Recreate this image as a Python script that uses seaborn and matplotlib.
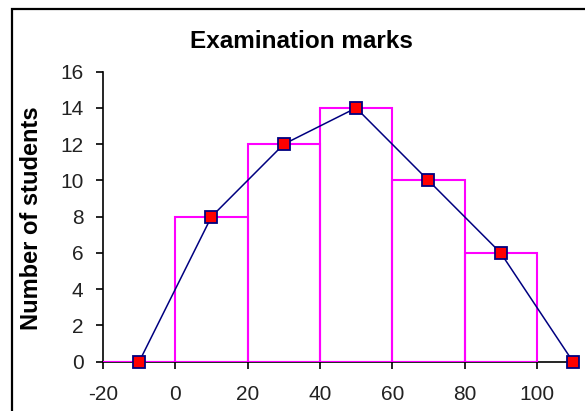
import matplotlib
matplotlib.use("Agg")
import matplotlib.pyplot as plt
import matplotlib.patches as mpatches
import seaborn as sns
import pandas as pd

# ---- data ----
bin_edges = [-20, 0, 20, 40, 60, 80, 100]
bin_mids = [-10, 10, 30, 50, 70, 90]
frequencies = [0, 8, 12, 14, 10, 6]
polygon_x = [-10, 10, 30, 50, 70, 90, 110]
polygon_y = [0, 8, 12, 14, 10, 6, 0]
x_ticks = [-20, 0, 20, 40, 60, 80, 100]
y_ticks = [0, 2, 4, 6, 8, 10, 12, 14, 16]
title = "Examination marks"
y_label = "Number of students"

sns.set_style("ticks")
plt.rcParams["font.family"] = ["Liberation Sans", "DejaVu Sans"]
plt.rcParams["axes.unicode_minus"] = False

W, H = 585, 411
fig = plt.figure(figsize=(W / 100, H / 100), dpi=100)
ax = fig.add_axes([103 / W, 1 - 361.7 / H, (573 - 103) / W, (361.7 - 71.7) / H])

hist_df = pd.DataFrame({"mark": bin_mids, "count": frequencies})
sns.histplot(data=hist_df, x="mark", weights="count", bins=bin_edges,
             fill=False, color="#FF00FF", linewidth=1.5, ax=ax)
for p in ax.patches:
    p.set_zorder(3)
    p.set_edgecolor("#FF00FF")
# baseline of the bars (zero-height first bin)
ax.hlines(0, bin_edges[0], bin_edges[-1], colors="#FF00FF", linewidth=1.5, zorder=3)

poly_df = pd.DataFrame({"x": polygon_x, "y": polygon_y})
sns.lineplot(data=poly_df, x="x", y="y", ax=ax, color="#000080", linewidth=1.1,
             marker="s", markersize=8, markerfacecolor="red",
             markeredgecolor="#000080", markeredgewidth=1.3, clip_on=False,
             zorder=4)

ax.set_xlim(-20, 110)
ax.set_ylim(0, 16)
ax.set_xticks(x_ticks)
ax.set_yticks(y_ticks)
ax.set_xlabel("")
ax.set_ylabel("")
for s in ["top", "right"]:
    ax.spines[s].set_visible(False)
for s in ["left", "bottom"]:
    ax.spines[s].set_color("black")
    ax.spines[s].set_linewidth(1.2)
ax.tick_params(axis="both", direction="out", length=5, width=1.2, colors="black",
               labelsize=15, labelcolor="#222222")
ax.tick_params(axis="x", pad=12)
ax.tick_params(axis="y", pad=9)

fig.text(301 / W, 1 - 48 / H, title, ha="center", va="baseline",
         fontsize=17.5, fontweight="bold", color="black")
fig.text(32 / W, 1 - 218 / H, y_label, ha="center", va="center", rotation=90,
         fontsize=17, fontweight="bold", color="black")

border = mpatches.Rectangle((12 / W, -0.2), 2.0, (1 - 9.5 / H) + 0.2,
                            transform=fig.transFigure, fill=False,
                            edgecolor="black", linewidth=1.6, clip_on=False)
fig.patches.append(border)

fig.savefig("out.png", dpi=100)
